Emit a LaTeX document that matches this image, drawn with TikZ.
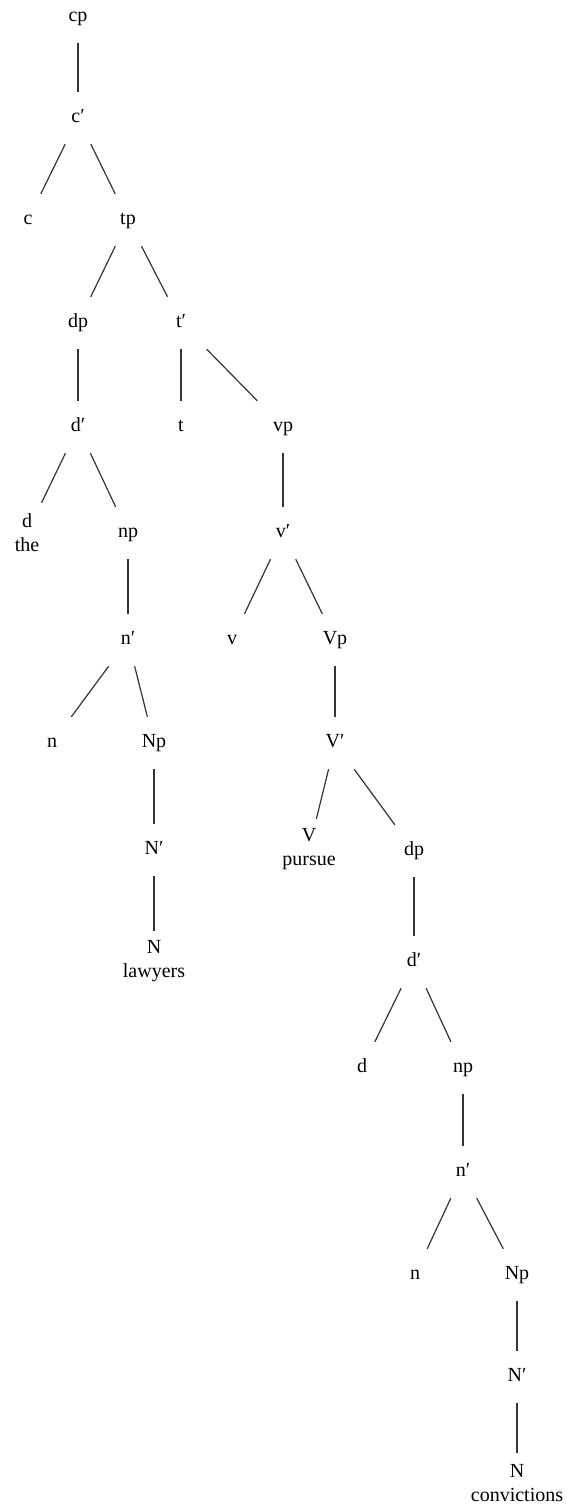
\documentclass[tikz,border=0pt]{standalone}
\usepackage{fontspec}
\setmainfont{Liberation Serif}

\begin{document}
\begin{tikzpicture}[x=1pt, y=-1pt,
    cat/.style={minimum width=60pt, minimum height=52pt, inner sep=0pt, text height=12pt, text depth=4pt, font=\fontsize{20}{24}\selectfont},
    leaf/.style={minimum width=60pt, minimum height=60pt, inner sep=0pt, align=center, font=\fontsize{20}{24}\selectfont},
    branch/.style={line width=1.2pt, black!80}
]
\useasboundingbox (0,0) rectangle (567,1507);

% Clause spine
\node[cat] (cp) at (78,17) {cp};
\node[cat] (cbar) at (78,118) {c′};
\node[cat] (c) at (28,220) {c};
\node[cat] (tp) at (128,220) {tp};

% Subject dp
\node[cat] (dp1) at (78,323) {dp};
\node[cat] (dbar1) at (78,427) {d′};
\node[leaf] (d1) at (27,533) {d\\the};
\node[cat] (np1) at (128,533) {np};
\node[cat] (nbar1) at (128,640) {n′};
\node[cat] (n1) at (52,743) {n};
\node[cat] (Np1) at (154,743) {Np};
\node[cat] (Nbar1) at (154,850) {N′};
\node[leaf] (N1) at (154,961) {N\\lawyers};

% t' and the verb phrases
\node[cat] (tbar) at (181,323) {t′};
\node[cat] (t) at (181,427) {t};
\node[cat] (vp) at (283,427) {vp};
\node[cat] (vbar) at (283,533) {v′};
\node[cat] (v) at (232,640) {v};
\node[cat] (Vp) at (335,640) {Vp};
\node[cat] (Vbar) at (335,743) {V′};
\node[leaf] (V) at (309,849) {V\\pursue};

% Object dp
\node[cat] (dp2) at (414,851) {dp};
\node[cat] (dbar2) at (414,962) {d′};
\node[cat] (d2) at (362,1068) {d};
\node[cat] (np2) at (463,1068) {np};
\node[cat] (nbar2) at (463,1172) {n′};
\node[cat] (n2) at (415,1275) {n};
\node[cat] (Np2) at (517,1275) {Np};
\node[cat] (Nbar2) at (517,1377) {N′};
\node[leaf] (N2) at (517,1483) {N\\convictions};

% Branches
\draw[branch] (cp) -- (cbar);
\draw[branch] (cbar) -- (c);
\draw[branch] (cbar) -- (tp);
\draw[branch] (tp) -- (dp1);
\draw[branch] (tp) -- (tbar);

\draw[branch] (dp1) -- (dbar1);
\draw[branch] (dbar1) -- (d1);
\draw[branch] (dbar1) -- (np1);
\draw[branch] (np1) -- (nbar1);
\draw[branch] (nbar1) -- (n1);
\draw[branch] (nbar1) -- (Np1);
\draw[branch] (Np1) -- (Nbar1);
\draw[branch] (Nbar1) -- (N1);

\draw[branch] (tbar) -- (t);
\draw[branch] (tbar) -- (vp);
\draw[branch] (vp) -- (vbar);
\draw[branch] (vbar) -- (v);
\draw[branch] (vbar) -- (Vp);
\draw[branch] (Vp) -- (Vbar);
\draw[branch] (Vbar) -- (V);
\draw[branch] (Vbar) -- (dp2);

\draw[branch] (dp2) -- (dbar2);
\draw[branch] (dbar2) -- (d2);
\draw[branch] (dbar2) -- (np2);
\draw[branch] (np2) -- (nbar2);
\draw[branch] (nbar2) -- (n2);
\draw[branch] (nbar2) -- (Np2);
\draw[branch] (Np2) -- (Nbar2);
\draw[branch] (Nbar2) -- (N2);

\end{tikzpicture}
\end{document}
